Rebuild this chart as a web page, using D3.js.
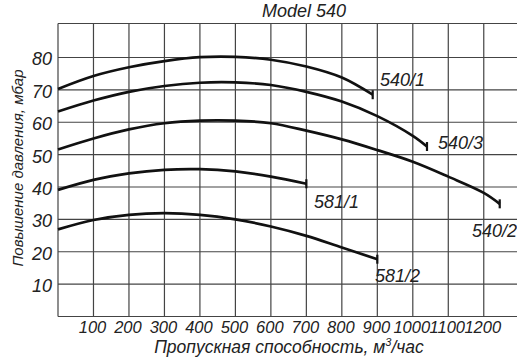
<!DOCTYPE html>
<html>
<head>
<meta charset="utf-8">
<script src="https://cdn.jsdelivr.net/npm/d3@7"></script>
<style>
  body { margin: 0; background: #fff; }
  svg { display: block; }
  text { font-family: "Liberation Sans", Arial, sans-serif; font-style: italic; fill: #222; }
</style>
</head>
<body>
<svg width="517" height="363"></svg>
<script>
// flow, m3/h
const flow5401 = [0, 100, 200, 300, 400, 500, 600, 700, 800, 887];
const pres5401 = [70.3, 74.3, 77.0, 78.9, 80.1, 80.2, 79.3, 77.2, 73.8, 68.5];
const flow5403 = [0, 100, 200, 300, 400, 500, 600, 700, 800, 900, 1000, 1040];
const pres5403 = [63.3, 66.7, 69.4, 71.2, 72.2, 72.3, 71.5, 69.4, 66.4, 61.9, 55.8, 52.5];
const flow5402 = [0, 100, 200, 300, 400, 500, 600, 700, 800, 900, 1000, 1100, 1200, 1245];
const pres5402 = [51.6, 55.0, 57.8, 59.7, 60.5, 60.5, 59.7, 57.4, 54.7, 51.4, 47.8, 43.2, 38.2, 34.8];
const flow5811 = [0, 100, 200, 300, 400, 500, 600, 700];
const pres5811 = [39.1, 42.2, 44.2, 45.3, 45.5, 44.8, 43.2, 41.0];
const flow5812 = [0, 100, 200, 300, 400, 500, 600, 700, 800, 900];
const pres5812 = [26.9, 29.8, 31.4, 31.9, 31.4, 30.0, 27.8, 24.9, 21.3, 17.7];

const seriesNames = ["540/1", "540/3", "540/2", "581/1", "581/2"];
const xTicks = [100, 200, 300, 400, 500, 600, 700, 800, 900, 1000, 1100, 1200];
const yTicks = [10, 20, 30, 40, 50, 60, 70, 80];

const series = [
  { name: seriesNames[0], x: flow5401, y: pres5401, lx: 380, ly: 86 },
  { name: seriesNames[1], x: flow5403, y: pres5403, lx: 438, ly: 149 },
  { name: seriesNames[2], x: flow5402, y: pres5402, lx: 472, ly: 237 },
  { name: seriesNames[3], x: flow5811, y: pres5811, lx: 314, ly: 208 },
  { name: seriesNames[4], x: flow5812, y: pres5812, lx: 375, ly: 282 }
];

const svg = d3.select("svg");
const plotLeft = 58, plotTop = 23.5, plotBottom = 316.5;

const x = d3.scaleLinear().domain([0, 1300]).range([plotLeft, plotLeft + 1300 * 0.3548]);
const y = d3.scaleLinear().domain([0, 90.5]).range([plotBottom, plotTop]);

// grid
const grid = svg.append("g").attr("stroke", "#444").attr("stroke-width", 1.2);
grid.selectAll(".vl")
  .data(d3.range(0, 1400, 100))
  .enter().append("line")
  .attr("x1", d => x(d)).attr("x2", d => x(d))
  .attr("y1", y(90.5)).attr("y2", y(0));
grid.selectAll(".hl")
  .data(d3.range(0, 100, 10).map(d => d === 90 ? 90.5 : d))
  .enter().append("line")
  .attr("x1", x(0)).attr("x2", 517)
  .attr("y1", d => y(d)).attr("y2", d => y(d));

// ticks
svg.append("g").selectAll("text")
  .data(xTicks).enter().append("text")
  .attr("x", d => x(d) - 1).attr("y", 333)
  .attr("text-anchor", "middle")
  .attr("font-size", 16.5)
  .text(d => d);

svg.append("g").selectAll("text")
  .data(yTicks).enter().append("text")
  .attr("x", 52).attr("y", d => y(d) + 8)
  .attr("text-anchor", "end")
  .attr("font-size", 18)
  .text(d => d);

// curves
const line = d3.line().x(d => x(d[0])).y(d => y(d[1])).curve(d3.curveCatmullRom.alpha(0.5));

series.forEach(s => {
  const pts = s.x.map((v, i) => [v, s.y[i]]);
  svg.append("path")
    .attr("d", line(pts))
    .attr("fill", "none")
    .attr("stroke", "#111")
    .attr("stroke-width", 2.7);
  const last = pts[pts.length - 1];
  svg.append("line")
    .attr("x1", x(last[0])).attr("x2", x(last[0]))
    .attr("y1", y(last[1]) - 4.5).attr("y2", y(last[1]) + 4.5)
    .attr("stroke", "#111").attr("stroke-width", 2.2);
  svg.append("text")
    .attr("x", s.lx).attr("y", s.ly)
    .attr("font-size", 18)
    .text(s.name);
});

// titles
svg.append("text")
  .attr("x", 304).attr("y", 17)
  .attr("text-anchor", "middle")
  .attr("font-size", 18)
  .text("Model 540");

svg.append("text")
  .attr("x", 289).attr("y", 353)
  .attr("text-anchor", "middle")
  .attr("font-size", 17.5)
  .html("Пропускная способность, м<tspan dy='-7' font-size='11'>3</tspan><tspan dy='7'>/час</tspan>");

svg.append("text")
  .attr("transform", "translate(23,168) rotate(-90)")
  .attr("text-anchor", "middle")
  .attr("font-size", 15)
  .text("Повышение давления, мбар");
</script>
</body>
</html>
